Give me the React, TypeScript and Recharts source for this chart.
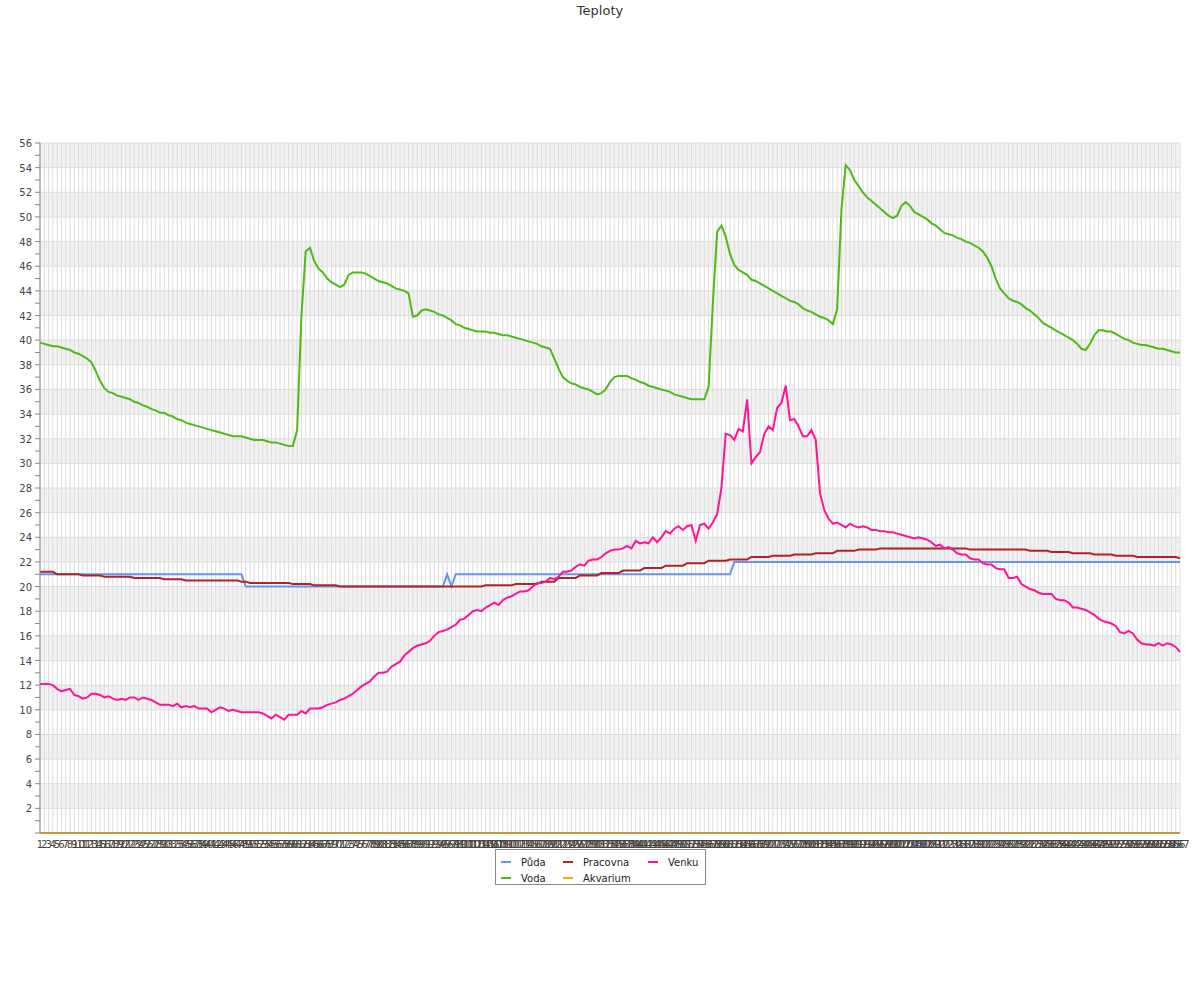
import React from 'react';
import { LineChart, Line, XAxis, YAxis, CartesianGrid, Legend } from 'recharts';

// x categories are just the sample numbers 1..267
const labels = Array.from({ length: 267 }, (_, i) => String(i + 1));

const puda = [
  21, 21, 21, 21, 21, 21, 21, 21, 21, 21, 21, 21, 21, 21, 21, 21, 21, 21, 21, 21,
  21, 21, 21, 21, 21, 21, 21, 21, 21, 21, 21, 21, 21, 21, 21, 21, 21, 21, 21, 21,
  21, 21, 21, 21, 21, 21, 21, 21, 20, 20, 20, 20, 20, 20, 20, 20, 20, 20, 20, 20,
  20, 20, 20, 20, 20, 20, 20, 20, 20, 20, 20, 20, 20, 20, 20, 20, 20, 20, 20, 20,
  20, 20, 20, 20, 20, 20, 20, 20, 20, 20, 20, 20, 20, 20, 20, 21, 20, 21, 21, 21,
  21, 21, 21, 21, 21, 21, 21, 21, 21, 21, 21, 21, 21, 21, 21, 21, 21, 21, 21, 21,
  21, 21, 21, 21, 21, 21, 21, 21, 21, 21, 21, 21, 21, 21, 21, 21, 21, 21, 21, 21,
  21, 21, 21, 21, 21, 21, 21, 21, 21, 21, 21, 21, 21, 21, 21, 21, 21, 21, 21, 21,
  21, 21, 22, 22, 22, 22, 22, 22, 22, 22, 22, 22, 22, 22, 22, 22, 22, 22, 22, 22,
  22, 22, 22, 22, 22, 22, 22, 22, 22, 22, 22, 22, 22, 22, 22, 22, 22, 22, 22, 22,
  22, 22, 22, 22, 22, 22, 22, 22, 22, 22, 22, 22, 22, 22, 22, 22, 22, 22, 22, 22,
  22, 22, 22, 22, 22, 22, 22, 22, 22, 22, 22, 22, 22, 22, 22, 22, 22, 22, 22, 22,
  22, 22, 22, 22, 22, 22, 22, 22, 22, 22, 22, 22, 22, 22, 22, 22, 22, 22, 22, 22,
  22, 22, 22, 22, 22, 22, 22,
];

const voda = [
  39.8, 39.7, 39.6, 39.5, 39.5, 39.4, 39.3, 39.2, 39.0, 38.9,
  38.7, 38.5, 38.2, 37.5, 36.7, 36.1, 35.8, 35.7, 35.5, 35.4,
  35.3, 35.2, 35.0, 34.9, 34.7, 34.6, 34.4, 34.3, 34.1, 34.1,
  33.9, 33.8, 33.6, 33.5, 33.3, 33.2, 33.1, 33.0, 32.9, 32.8,
  32.7, 32.6, 32.5, 32.4, 32.3, 32.2, 32.2, 32.2, 32.1, 32.0,
  31.9, 31.9, 31.9, 31.8, 31.7, 31.7, 31.6, 31.5, 31.4, 31.4,
  32.7, 42.0, 47.2, 47.5, 46.4, 45.8, 45.5, 45.0, 44.7, 44.5,
  44.3, 44.5, 45.3, 45.5, 45.5, 45.5, 45.4, 45.2, 45.0, 44.8,
  44.7, 44.6, 44.4, 44.2, 44.1, 44.0, 43.8, 41.9, 42.0, 42.4,
  42.5, 42.4, 42.3, 42.1, 42.0, 41.8, 41.6, 41.3, 41.2, 41.0,
  40.9, 40.8, 40.7, 40.7, 40.7, 40.6, 40.6, 40.5, 40.4, 40.4,
  40.3, 40.2, 40.1, 40.0, 39.9, 39.8, 39.7, 39.5, 39.4, 39.3,
  38.5, 37.7, 37.0, 36.7, 36.5, 36.4, 36.2, 36.1, 36.0, 35.8,
  35.6, 35.7, 36.0, 36.6, 37.0, 37.1, 37.1, 37.1, 36.9, 36.8,
  36.6, 36.5, 36.3, 36.2, 36.1, 36.0, 35.9, 35.8, 35.6, 35.5,
  35.4, 35.3, 35.2, 35.2, 35.2, 35.2, 36.2, 43.0, 48.8, 49.3,
  48.4, 47.0, 46.1, 45.7, 45.5, 45.3, 44.9, 44.8, 44.6, 44.4,
  44.2, 44.0, 43.8, 43.6, 43.4, 43.2, 43.1, 42.9, 42.6, 42.4,
  42.3, 42.1, 41.9, 41.8, 41.6, 41.3, 42.5, 50.6, 54.2, 53.8,
  53.0, 52.5, 52.0, 51.6, 51.3, 51.0, 50.7, 50.4, 50.1, 49.9,
  50.1, 50.9, 51.2, 50.9, 50.4, 50.2, 50.0, 49.8, 49.5, 49.3,
  49.0, 48.7, 48.6, 48.5, 48.3, 48.2, 48.0, 47.9, 47.7, 47.5,
  47.2, 46.7, 46.0, 45.0, 44.2, 43.8, 43.4, 43.2, 43.1, 42.9,
  42.6, 42.4, 42.1, 41.8, 41.4, 41.2, 41.0, 40.8, 40.6, 40.4,
  40.2, 40.0, 39.7, 39.3, 39.2, 39.7, 40.4, 40.8, 40.8, 40.7,
  40.7, 40.5, 40.3, 40.1, 40.0, 39.8, 39.7, 39.6, 39.6, 39.5,
  39.4, 39.3, 39.3, 39.2, 39.1, 39.0, 39.0,
];

const pracovna = [
  21.2, 21.2, 21.2, 21.2, 21.0, 21.0, 21.0, 21.0, 21.0, 21.0,
  20.9, 20.9, 20.9, 20.9, 20.9, 20.8, 20.8, 20.8, 20.8, 20.8,
  20.8, 20.8, 20.7, 20.7, 20.7, 20.7, 20.7, 20.7, 20.7, 20.6,
  20.6, 20.6, 20.6, 20.6, 20.5, 20.5, 20.5, 20.5, 20.5, 20.5,
  20.5, 20.5, 20.5, 20.5, 20.5, 20.5, 20.5, 20.4, 20.4, 20.3,
  20.3, 20.3, 20.3, 20.3, 20.3, 20.3, 20.3, 20.3, 20.3, 20.2,
  20.2, 20.2, 20.2, 20.2, 20.1, 20.1, 20.1, 20.1, 20.1, 20.1,
  20.0, 20.0, 20.0, 20.0, 20.0, 20.0, 20.0, 20.0, 20.0, 20.0,
  20.0, 20.0, 20.0, 20.0, 20.0, 20.0, 20.0, 20.0, 20.0, 20.0,
  20.0, 20.0, 20.0, 20.0, 20.0, 20.0, 20.0, 20.0, 20.0, 20.0,
  20.0, 20.0, 20.0, 20.0, 20.1, 20.1, 20.1, 20.1, 20.1, 20.1,
  20.1, 20.2, 20.2, 20.2, 20.2, 20.2, 20.2, 20.4, 20.4, 20.4,
  20.4, 20.7, 20.7, 20.7, 20.7, 20.7, 20.9, 20.9, 20.9, 20.9,
  20.9, 21.1, 21.1, 21.1, 21.1, 21.1, 21.3, 21.3, 21.3, 21.3,
  21.3, 21.5, 21.5, 21.5, 21.5, 21.5, 21.7, 21.7, 21.7, 21.7,
  21.7, 21.9, 21.9, 21.9, 21.9, 21.9, 22.1, 22.1, 22.1, 22.1,
  22.1, 22.2, 22.2, 22.2, 22.2, 22.2, 22.4, 22.4, 22.4, 22.4,
  22.4, 22.5, 22.5, 22.5, 22.5, 22.5, 22.6, 22.6, 22.6, 22.6,
  22.6, 22.7, 22.7, 22.7, 22.7, 22.7, 22.9, 22.9, 22.9, 22.9,
  22.9, 23.0, 23.0, 23.0, 23.0, 23.0, 23.1, 23.1, 23.1, 23.1,
  23.1, 23.1, 23.1, 23.1, 23.1, 23.1, 23.1, 23.1, 23.1, 23.1,
  23.1, 23.1, 23.1, 23.1, 23.1, 23.1, 23.1, 23.0, 23.0, 23.0,
  23.0, 23.0, 23.0, 23.0, 23.0, 23.0, 23.0, 23.0, 23.0, 23.0,
  23.0, 22.9, 22.9, 22.9, 22.9, 22.9, 22.8, 22.8, 22.8, 22.8,
  22.8, 22.7, 22.7, 22.7, 22.7, 22.7, 22.6, 22.6, 22.6, 22.6,
  22.6, 22.5, 22.5, 22.5, 22.5, 22.5, 22.4, 22.4, 22.4, 22.4,
  22.4, 22.4, 22.4, 22.4, 22.4, 22.4, 22.3,
];

const akvarium = [
  0, 0, 0, 0, 0, 0, 0, 0, 0, 0, 0, 0, 0, 0, 0, 0, 0, 0, 0, 0,
  0, 0, 0, 0, 0, 0, 0, 0, 0, 0, 0, 0, 0, 0, 0, 0, 0, 0, 0, 0,
  0, 0, 0, 0, 0, 0, 0, 0, 0, 0, 0, 0, 0, 0, 0, 0, 0, 0, 0, 0,
  0, 0, 0, 0, 0, 0, 0, 0, 0, 0, 0, 0, 0, 0, 0, 0, 0, 0, 0, 0,
  0, 0, 0, 0, 0, 0, 0, 0, 0, 0, 0, 0, 0, 0, 0, 0, 0, 0, 0, 0,
  0, 0, 0, 0, 0, 0, 0, 0, 0, 0, 0, 0, 0, 0, 0, 0, 0, 0, 0, 0,
  0, 0, 0, 0, 0, 0, 0, 0, 0, 0, 0, 0, 0, 0, 0, 0, 0, 0, 0, 0,
  0, 0, 0, 0, 0, 0, 0, 0, 0, 0, 0, 0, 0, 0, 0, 0, 0, 0, 0, 0,
  0, 0, 0, 0, 0, 0, 0, 0, 0, 0, 0, 0, 0, 0, 0, 0, 0, 0, 0, 0,
  0, 0, 0, 0, 0, 0, 0, 0, 0, 0, 0, 0, 0, 0, 0, 0, 0, 0, 0, 0,
  0, 0, 0, 0, 0, 0, 0, 0, 0, 0, 0, 0, 0, 0, 0, 0, 0, 0, 0, 0,
  0, 0, 0, 0, 0, 0, 0, 0, 0, 0, 0, 0, 0, 0, 0, 0, 0, 0, 0, 0,
  0, 0, 0, 0, 0, 0, 0, 0, 0, 0, 0, 0, 0, 0, 0, 0, 0, 0, 0, 0,
  0, 0, 0, 0, 0, 0, 0,
];

const venku = [
  12.1, 12.1, 12.1, 12.0, 11.7, 11.5, 11.6, 11.7, 11.2, 11.1,
  10.9, 11.0, 11.3, 11.3, 11.2, 11.0, 11.1, 10.9, 10.8, 10.9,
  10.8, 11.0, 11.0, 10.8, 11.0, 10.9, 10.8, 10.6, 10.4, 10.4,
  10.4, 10.3, 10.5, 10.2, 10.3, 10.2, 10.3, 10.1, 10.1, 10.1,
  9.8, 10.0, 10.2, 10.1, 9.9, 10.0, 9.9, 9.8, 9.8, 9.8,
  9.8, 9.8, 9.7, 9.5, 9.3, 9.6, 9.4, 9.2, 9.6, 9.6,
  9.6, 9.9, 9.7, 10.1, 10.1, 10.1, 10.2, 10.4, 10.5, 10.6,
  10.8, 10.9, 11.1, 11.3, 11.6, 11.9, 12.1, 12.3, 12.7, 13.0,
  13.0, 13.1, 13.5, 13.7, 13.9, 14.4, 14.7, 15.0, 15.2, 15.3,
  15.4, 15.6, 16.0, 16.3, 16.4, 16.5, 16.7, 16.9, 17.3, 17.4,
  17.7, 18.0, 18.1, 18.0, 18.3, 18.5, 18.7, 18.5, 18.9, 19.1,
  19.2, 19.4, 19.6, 19.6, 19.7, 20.0, 20.3, 20.3, 20.4, 20.7,
  20.6, 20.8, 21.2, 21.2, 21.3, 21.6, 21.8, 21.7, 22.1, 22.2,
  22.2, 22.4, 22.7, 22.9, 23.0, 23.0, 23.1, 23.3, 23.1, 23.7,
  23.5, 23.6, 23.5, 24.0, 23.6, 24.0, 24.5, 24.3, 24.7, 24.9,
  24.6, 24.9, 25.0, 23.7, 25.0, 25.1, 24.7, 25.2, 25.9, 28.0,
  32.4, 32.3, 31.9, 32.8, 32.6, 35.2, 30.0, 30.5, 30.9, 32.4,
  33.0, 32.7, 34.5, 34.9, 36.3, 33.5, 33.6, 33.0, 32.2, 32.2,
  32.7, 31.9, 27.6, 26.2, 25.5, 25.1, 25.2, 25.0, 24.8, 25.1,
  24.9, 24.8, 24.9, 24.8, 24.6, 24.6, 24.5, 24.5, 24.4, 24.4,
  24.3, 24.2, 24.1, 24.0, 23.9, 24.0, 23.9, 23.8, 23.6, 23.3,
  23.4, 23.1, 23.2, 23.0, 22.7, 22.6, 22.6, 22.3, 22.2, 22.2,
  21.9, 21.8, 21.8, 21.5, 21.4, 21.4, 20.7, 20.7, 20.8, 20.2,
  20.0, 19.8, 19.7, 19.5, 19.4, 19.4, 19.4, 19.0, 18.9, 18.9,
  18.7, 18.3, 18.3, 18.2, 18.1, 17.9, 17.7, 17.4, 17.2, 17.1,
  17.0, 16.8, 16.3, 16.2, 16.4, 16.2, 15.7, 15.4, 15.3, 15.3,
  15.2, 15.4, 15.2, 15.4, 15.3, 15.1, 14.7,
];

// y axis: a tick every 1, label and grid line every 2
const yTicks = [
  0, 1, 2, 3, 4, 5, 6, 7, 8, 9, 10, 11, 12, 13, 14, 15, 16, 17, 18, 19, 20,
  21, 22, 23, 24, 25, 26, 27, 28, 29, 30, 31, 32, 33, 34, 35, 36, 37, 38, 39, 40,
  41, 42, 43, 44, 45, 46, 47, 48, 49, 50, 51, 52, 53, 54, 55, 56,
];
const gridValues = [0, 2, 4, 6, 8, 10, 12, 14, 16, 18, 20, 22, 24, 26, 28, 30, 32, 34, 36, 38, 40, 42, 44, 46, 48, 50, 52, 54, 56];

const series = [
  { key: 'puda', name: 'Půda', color: '#6495ed' },
  { key: 'voda', name: 'Voda', color: '#4cbb17' },
  { key: 'pracovna', name: 'Pracovna', color: '#b22222' },
  { key: 'akvarium', name: 'Akvarium', color: '#ffa500' },
  { key: 'venku', name: 'Venku', color: '#ff1493' },
];

const rows = labels.map((label, i) => ({
  label,
  puda: puda[i],
  voda: voda[i],
  pracovna: pracovna[i],
  akvarium: akvarium[i],
  venku: venku[i],
}));

const FONT = '"DejaVu Sans", Verdana, sans-serif';

const YTick = (props: any) => {
  const { x, y, payload } = props;
  const v = payload.value;
  if (v === 0 || v % 2 !== 0) return <g />;
  return (
    <text x={x} y={y} dy={4} textAnchor="end" fontSize={10} fill="#444" fontFamily={FONT}>
      {v}
    </text>
  );
};

// legend box: 3 columns, filled top to bottom
const legendPos = [
  { left: 5, top: 5 },
  { left: 5, top: 21 },
  { left: 67, top: 5 },
  { left: 67, top: 21 },
  { left: 152, top: 5 },
];

const LegendBox = () => (
  <div
    style={{
      position: 'relative',
      width: 209,
      height: 34,
      border: '1px solid #888',
      background: '#fff',
      fontFamily: FONT,
      fontSize: 10,
      color: '#222',
    }}
  >
    {series.map((s, i) => (
      <div
        key={s.key}
        style={{ position: 'absolute', left: legendPos[i].left, top: legendPos[i].top, height: 14, display: 'flex', alignItems: 'center' }}
      >
        <span style={{ display: 'inline-block', width: 10, height: 2, background: s.color, marginRight: 10 }} />
        <span>{s.name}</span>
      </div>
    ))}
  </div>
);

export default function App() {
  return (
    <div style={{ position: 'absolute', left: 0, top: 0, width: 1200, height: 1000, background: '#fff' }}>
      <div
        style={{
          position: 'absolute',
          top: 3,
          left: 0,
          width: 1200,
          textAlign: 'center',
          fontFamily: FONT,
          fontSize: 13,
          lineHeight: '16px',
          color: '#333',
        }}
      >
        Teploty
      </div>
      <LineChart width={1200} height={900} data={rows} margin={{ top: 143, right: 20, bottom: 37, left: 0 }}>
        <CartesianGrid
          stroke="#dcdcdc"
          horizontalValues={gridValues}
          horizontalFill={['#f2f2f2', '#ffffff']}
          fillOpacity={1}
        />
        <XAxis
          dataKey="label"
          interval={0}
          height={30}
          tickLine={false}
          stroke="#888"
          tick={{ fontSize: 10, fill: '#444', fontFamily: FONT }}
        />
        <YAxis
          type="number"
          domain={[0, 56]}
          ticks={yTicks}
          interval={0}
          width={40}
          tickSize={5}
          tickMargin={3}
          stroke="#888"
          tick={<YTick />}
        />
        <Legend
          layout="horizontal"
          verticalAlign="middle"
          align="center"
          wrapperStyle={{ left: 495, top: 849, width: 211 }}
          content={() => <LegendBox />}
        />
        {series.map((s) => (
          <Line
            key={s.key}
            type="linear"
            dataKey={s.key}
            name={s.name}
            stroke={s.color}
            strokeWidth={2}
            dot={false}
            isAnimationActive={false}
          />
        ))}
      </LineChart>
    </div>
  );
}
